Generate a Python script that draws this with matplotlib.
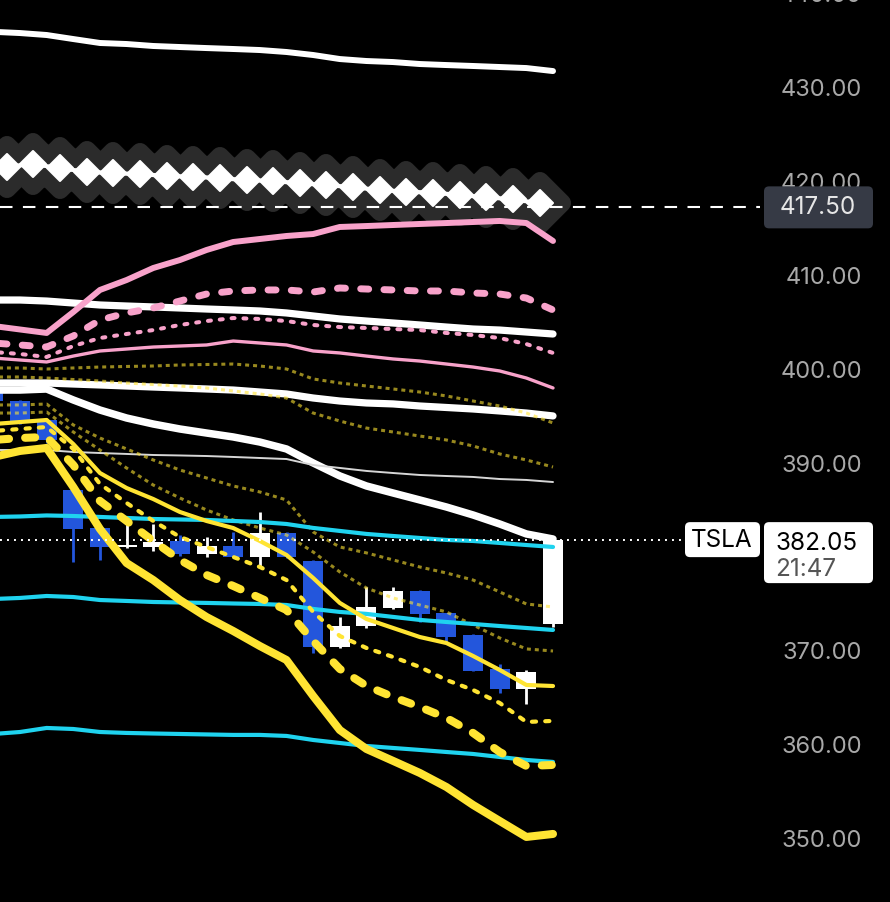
import numpy as np
import matplotlib
matplotlib.use('Agg')
import matplotlib.pyplot as plt
from matplotlib.patches import FancyBboxPatch
from matplotlib.markers import MarkerStyle
from matplotlib.transforms import IdentityTransform, blended_transform_factory

# ---------------- data ----------------
idx = list(range(-1, 21))                      # candle / line positions
diamond_idx = [i - 0.5 for i in range(0, 21)]  # diamond series sits between bars

opens  = [397.7, 396.9, 394.8, 387.4, 383.3, 381.3, 381.3, 381.95, 380.6, 381.45, 380.3,
          382.8, 379.85, 370.7, 372.85, 374.8, 376.6, 374.25, 371.95, 368.3, 366.15, 373.1]
highs  = [398.0, 397.0, 394.9, 387.6, 383.4, 384.2, 383.8, 382.6, 382.4, 382.95, 385.05,
          382.9, 379.9, 373.85, 377.05, 377.05, 376.7, 374.3, 372.0, 368.85, 368.2, 382.2]
lows   = [396.5, 394.4, 392.4, 379.75, 379.9, 381.2, 380.85, 380.4, 380.3, 380.2, 379.2,
          380.1, 370.0, 370.55, 372.7, 374.7, 373.35, 371.2, 368.1, 365.8, 364.6, 372.8]
closes = [396.9, 394.7, 392.7, 383.25, 381.3, 381.5, 381.85, 380.6, 381.45, 380.3, 382.8,
          380.2, 370.65, 372.85, 374.95, 376.6, 374.15, 371.75, 368.15, 366.15, 368.05, 382.05]

white_top = [436.2, 436.07, 435.86, 435.43, 435.01, 434.9, 434.69, 434.58, 434.47, 434.37, 434.26,
             434.05, 433.73, 433.3, 433.09, 432.98, 432.77, 432.66, 432.56, 432.45, 432.34, 432.02]
diamonds = [421.83, 422.12, 421.66, 421.30, 421.13, 421.05, 420.84, 420.77, 420.60, 420.41, 420.31,
            420.06, 419.88, 419.64, 419.35, 419.17, 419.06, 418.82, 418.57, 418.36, 417.93]
pink_thick = [404.86, 404.49, 404.12, 406.35, 408.70, 409.76, 411.04, 411.89, 412.96, 413.81, 414.13,
              414.45, 414.66, 415.41, 415.51, 415.62, 415.73, 415.83, 415.94, 416.05, 415.83, 413.92]
pink_dash = [403.05, 402.84, 402.62, 403.80, 405.50, 406.25, 406.78, 407.52, 408.27, 408.59, 408.70,
             408.70, 408.48, 408.91, 408.80, 408.70, 408.59, 408.59, 408.38, 408.27, 407.84, 406.57]
white_2 = [407.63, 407.63, 407.52, 407.31, 407.10, 406.99, 406.89, 406.78, 406.67, 406.57, 406.46,
           406.25, 405.93, 405.61, 405.39, 405.18, 404.97, 404.75, 404.54, 404.43, 404.22, 404.01]
pink_dot = [402.09, 401.88, 401.56, 402.73, 403.58, 404.01, 404.43, 404.97, 405.39, 405.71, 405.61,
            405.39, 404.97, 404.75, 404.65, 404.54, 404.43, 404.12, 403.90, 403.58, 402.94, 401.99]
pink_thin = [401.45, 401.24, 401.03, 401.66, 402.20, 402.41, 402.62, 402.73, 402.84, 403.26, 403.05,
             402.84, 402.20, 401.99, 401.66, 401.35, 401.13, 400.81, 400.49, 400.07, 399.32, 398.26]
olive_a = [400.39, 400.39, 400.28, 400.39, 400.49, 400.55, 400.60, 400.71, 400.76, 400.81, 400.60,
           400.28, 399.22, 398.79, 398.47, 398.15, 397.83, 397.41, 396.87, 396.34, 395.59, 394.53]
olive_c = [399.43, 399.43, 399.32, 399.16, 399.00, 398.79, 398.63, 398.47, 398.26, 397.94, 397.62,
           397.19, 395.59, 394.74, 393.99, 393.57, 393.14, 392.72, 392.08, 391.23, 390.59, 389.84]
white_3 = [398.79, 398.79, 398.79, 398.68, 398.58, 398.47, 398.36, 398.26, 398.15, 398.04, 397.83,
           397.62, 397.19, 396.87, 396.66, 396.56, 396.34, 396.18, 396.02, 395.81, 395.59, 395.28]
white_4 = [398.04, 398.04, 398.15, 396.98, 395.91, 395.06, 394.42, 393.89, 393.46, 393.04, 392.50,
           391.76, 390.27, 388.89, 387.82, 387.07, 386.33, 385.58, 384.73, 383.77, 382.71, 382.17]
gray_thin = [391.65, 391.65, 391.65, 391.44, 391.33, 391.23, 391.12, 391.07, 391.01, 390.91, 390.80,
             390.69, 390.05, 389.74, 389.42, 389.20, 388.99, 388.88, 388.78, 388.56, 388.46, 388.24]
olive_d = [396.45, 396.45, 396.55, 394.32, 392.93, 391.76, 390.59, 389.52, 388.67, 387.82, 387.18,
           386.33, 382.92, 381.32, 380.69, 379.94, 379.19, 378.55, 377.80, 376.53, 375.25, 374.93]
olive_e = [395.59, 395.59, 395.70, 393.57, 391.65, 389.73, 387.92, 386.54, 385.26, 384.20, 383.34,
           382.60, 380.79, 378.66, 376.95, 375.89, 375.14, 374.40, 373.01, 371.63, 370.46, 370.24]
cyan_top = [384.52, 384.57, 384.68, 384.62, 384.52, 384.41, 384.30, 384.25, 384.20, 384.09, 383.98,
            383.77, 383.35, 383.03, 382.71, 382.49, 382.28, 382.07, 381.96, 381.75, 381.53, 381.32]
cyan_mid = [375.78, 375.89, 376.10, 375.99, 375.67, 375.57, 375.46, 375.41, 375.36, 375.30, 375.25,
            375.14, 374.72, 374.40, 374.19, 373.87, 373.55, 373.33, 373.12, 372.90, 372.69, 372.48]
cyan_low = [361.40, 361.61, 362.04, 361.93, 361.61, 361.51, 361.45, 361.40, 361.35, 361.30, 361.30,
            361.19, 360.76, 360.44, 360.12, 359.91, 359.70, 359.48, 359.27, 358.95, 358.63, 358.42]
yel_thick = [390.91, 391.55, 391.87, 387.71, 383.24, 379.61, 377.80, 375.67, 373.86, 372.37, 370.77,
             369.28, 365.45, 361.82, 359.80, 358.53, 357.25, 355.75, 353.84, 352.13, 350.43, 350.75]
yel_dash = [392.72, 392.93, 393.04, 390.06, 386.22, 384.09, 381.96, 379.94, 378.34, 377.17, 375.89,
            374.61, 371.31, 368.33, 366.52, 365.34, 364.28, 363.11, 361.51, 359.48, 357.99, 358.10]
yel_solid = [394.42, 394.63, 394.85, 392.29, 389.20, 387.60, 386.43, 385.05, 384.09, 383.34, 381.96,
             380.47, 378.02, 375.36, 373.65, 372.69, 371.73, 371.09, 369.71, 368.22, 366.62, 366.51]
yel_dot = [393.68, 393.89, 394.10, 391.76, 388.03, 386.01, 384.09, 382.39, 381.32, 380.26, 379.19,
           377.80, 374.40, 371.84, 370.56, 369.60, 368.54, 367.15, 366.09, 364.70, 362.68, 362.79]

y_ticks = [440, 430, 420, 410, 400, 390, 380, 370, 360, 350]
ref_price = 417.50
last_price = 382.05
symbol = "TSLA"
clock = "21:47"

# ---------------- style ----------------
BLUE = '#2356dc'
PINK = '#f8a2ca'
CYAN = '#1fd3ef'
YEL = '#ffe433'
FONT = ['Inter', 'DejaVu Sans']

fig = plt.figure(figsize=(8.9, 9.02), dpi=100)
fig.patch.set_facecolor('black')
ax = fig.add_axes([0, 0, 1, 1])
ax.set_facecolor('black')
ax.set_xlim(-0.7505, 32.645)
ax.set_ylim(343.50, 439.59)
ax.axis('off')

# glow behind diamond series
GLOW = '#2b2b2b'
ax.plot(diamond_idx, diamonds, color=GLOW, lw=31, solid_capstyle='round',
        solid_joinstyle='round', zorder=1)
ax.plot(diamond_idx, diamonds, ls='none', marker=MarkerStyle('D', joinstyle='round'),
        ms=22, mfc=GLOW, mec=GLOW, mew=13, zorder=1)

# candles
for i, o, h, l, c in zip(idx, opens, highs, lows, closes):
    col = 'white' if c >= o else BLUE
    ax.vlines(i, l, h, color=col, lw=2.0, zorder=2)
    lo, hi = min(o, c), max(o, c)
    ax.bar(i, max(hi - lo, 0.2), bottom=lo, width=0.75, color=col, zorder=2, linewidth=0)

def line(y, color, lw, dashes=None, cap='round', alpha=1.0, z=3):
    kw = dict(color=color, lw=lw, alpha=alpha, zorder=z, solid_capstyle=cap,
              dash_capstyle=cap, solid_joinstyle='round')
    ln, = ax.plot(idx, y, **kw)
    if dashes is not None:
        ln.set_dashes(dashes)
    return ln

line(white_top, 'white', 4.3)
line(white_2, 'white', 5.2)
line(white_3, 'white', 5.2)
line(white_4, 'white', 5.4)
line(gray_thin, '#d6d6d6', 1.4)
line(pink_thin, PINK, 2.4)
line(pink_thick, PINK, 4.3)
line(pink_dash, PINK, 5.0, dashes=(1.15, 2.2))
line(pink_dot, PINK, 2.9, dashes=(0.75, 2.2))
for ol in (olive_a, olive_c, olive_d, olive_e):
    line(ol, YEL, 2.2, dashes=(1.3, 1.3), cap='butt', alpha=0.6)
for cy in (cyan_top, cyan_mid, cyan_low):
    line(cy, CYAN, 3.0)
line(yel_thick, YEL, 5.8)
line(yel_dash, YEL, 5.8, dashes=(1.25, 2.0))
line(yel_solid, YEL, 3.0)
line(yel_dot, YEL, 3.0, dashes=(1.0, 2.2))

# diamonds on top
ax.plot(diamond_idx, diamonds, color='white', lw=3, zorder=4)
ax.plot(diamond_idx, diamonds, ls='none', marker=MarkerStyle('D', joinstyle='round'),
        ms=13.5, mfc='white', mec='white', mew=1.5, zorder=4)

# price reference lines
trans_xa = blended_transform_factory(ax.transAxes, ax.transData)
ax.plot([0, 0.854], [ref_price, ref_price], color='white', lw=1.5,
        dashes=(6, 5), transform=trans_xa, zorder=5)
ax.plot([0, 0.770], [last_price, last_price], color='white', lw=1.4,
        dashes=(1, 2.6), transform=trans_xa, zorder=5)

# axis labels
for t in y_ticks:
    ax.text(0.9685, t, f"{t:.2f}", transform=trans_xa, ha='right', va='center',
            color='#a8a8a8', fontsize=17, family=FONT, zorder=6)

# label boxes (pixel space)
def ypix(v):
    return ax.transData.transform((0, v))[1]

yr = ypix(ref_price)
ax.add_artist(FancyBboxPatch((764, yr - 21), 109, 42, boxstyle='round,pad=0,rounding_size=5',
                             transform=IdentityTransform(), fc='#363a45', ec='none', zorder=7))
ax.text(818, yr, f"{ref_price:.2f}", transform=IdentityTransform(), ha='center', va='center',
        color='#e6e6e6', fontsize=17.5, family=FONT, zorder=8)

yl = ypix(last_price)
ax.add_artist(FancyBboxPatch((685, yl - 17), 75, 35, boxstyle='round,pad=0,rounding_size=5',
                             transform=IdentityTransform(), fc='white', ec='none', zorder=7))
ax.text(722, yl, symbol, transform=IdentityTransform(), ha='center', va='center',
        color='black', fontsize=17.5, family=FONT, zorder=8)
ax.add_artist(FancyBboxPatch((764, yl - 43), 109, 61, boxstyle='round,pad=0,rounding_size=5',
                             transform=IdentityTransform(), fc='white', ec='none', zorder=7))
ax.text(817, yl - 3, f"{last_price:.2f}", transform=IdentityTransform(), ha='center', va='center',
        color='black', fontsize=17.5, family=FONT, zorder=8)
ax.text(806, yl - 29, clock, transform=IdentityTransform(), ha='center', va='center',
        color='#555555', fontsize=17.5, family=FONT, zorder=8)

fig.savefig('out.png', dpi=100, facecolor='black')
